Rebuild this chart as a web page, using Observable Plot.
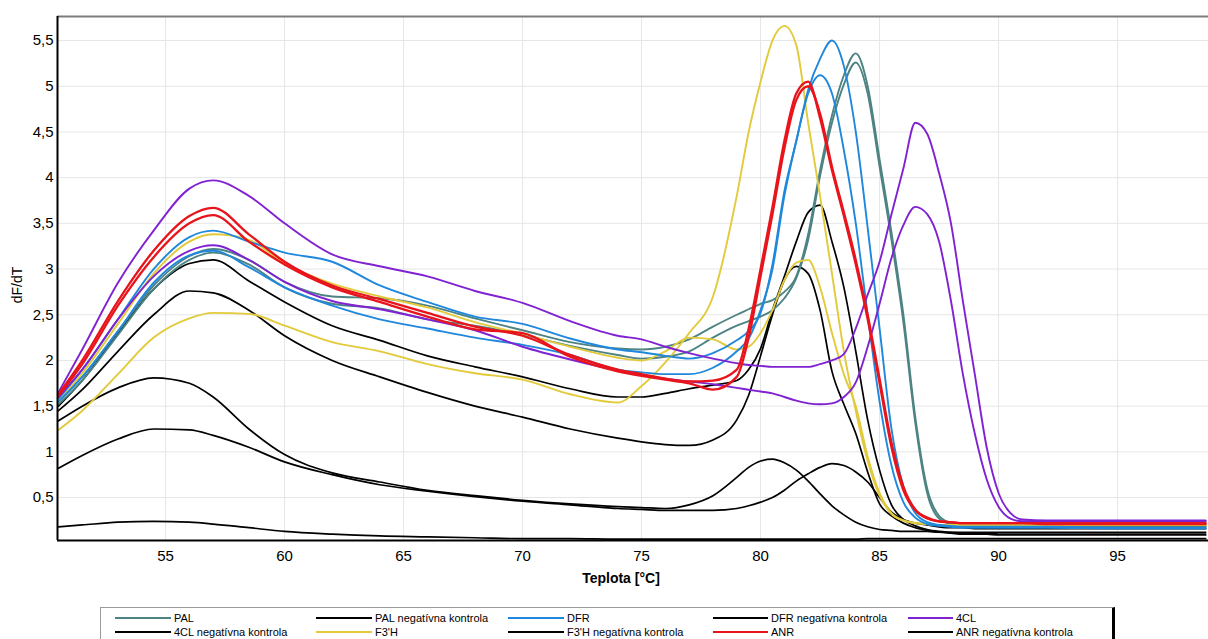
<!DOCTYPE html>
<html><head><meta charset="utf-8">
<script src="https://cdn.jsdelivr.net/npm/d3@7"></script>
<script src="https://cdn.jsdelivr.net/npm/@observablehq/plot@0.6"></script>
<style>
body{margin:0;background:#fff;font-family:"Liberation Sans",Arial,sans-serif;}
#wrap{position:relative;width:1208px;height:639px;overflow:hidden;background:#fff;}
#legend{position:absolute;left:100px;top:607px;width:1015px;height:40px;border:1px solid #9a9a9a;border-right:3px solid #000;box-sizing:border-box;}
.item{position:absolute;font-size:11px;line-height:12px;white-space:nowrap;color:#000;}
.sw{position:absolute;height:2px;}
</style></head><body><div id="wrap"><div id="chart"></div><div id="legend"></div></div>
<script>
// Temperature grid (°C)
const temps = [50.5, 51.5, 53, 54.5, 56, 57, 58.5, 60, 62, 64,
  66, 68, 70, 72, 74, 75, 76, 77, 78, 79,
  79.5, 80, 80.5, 81, 81.5, 82, 82.5, 83, 83.5, 84,
  84.5, 85, 85.5, 86, 86.5, 87, 87.5, 88, 88.5, 89,
  89.5, 90, 90.5, 91, 92, 95, 98.7];

// dF/dT values, two replicates per sample
const PAL_1 = [1.55, 1.82, 2.32, 2.82, 3.14, 3.22, 3.1, 2.86, 2.7, 2.68,
  2.6, 2.46, 2.33, 2.2, 2.13, 2.12, 2.15, 2.23, 2.37, 2.5,
  2.56, 2.62, 2.66, 2.75, 2.92, 3.38, 4.08, 4.68, 5.12, 5.36,
  5.0, 4.2, 3.4, 2.5, 1.38, 0.6, 0.3, 0.22, 0.2, 0.2,
  0.2, 0.2, 0.2, 0.2, 0.2, 0.19, 0.19];
const PAL_2 = [1.52, 1.78, 2.28, 2.78, 3.1, 3.18, 3.05, 2.8, 2.62, 2.57,
  2.45, 2.38, 2.28, 2.16, 2.06, 2.02, 2.04, 2.1, 2.25, 2.38,
  2.43, 2.48, 2.55, 2.68, 2.9, 3.32, 4.02, 4.6, 5.02, 5.26,
  4.92, 4.12, 3.32, 2.42, 1.32, 0.55, 0.27, 0.21, 0.19, 0.19,
  0.19, 0.19, 0.19, 0.19, 0.19, 0.18, 0.18];
const DFR_1 = [1.58, 1.9, 2.45, 3.0, 3.35, 3.42, 3.3, 3.18, 3.08, 2.82,
  2.64, 2.48, 2.4, 2.24, 2.12, 2.09, 2.05, 2.02, 2.08, 2.22,
  2.32, 2.52, 3.05, 3.85, 4.4, 4.96, 5.3, 5.5, 5.22, 4.5,
  3.45, 2.35, 1.25, 0.62, 0.33, 0.23, 0.2, 0.19, 0.18, 0.18,
  0.18, 0.18, 0.18, 0.18, 0.18, 0.17, 0.17];
const DFR_2 = [1.55, 1.82, 2.32, 2.85, 3.15, 3.2, 3.02, 2.8, 2.6, 2.45,
  2.35, 2.25, 2.17, 2.06, 1.9, 1.87, 1.85, 1.85, 1.92, 2.1,
  2.24, 2.55, 3.0, 3.8, 4.4, 4.92, 5.12, 4.92, 4.3, 3.5,
  2.5, 1.55, 0.85, 0.45, 0.28, 0.21, 0.19, 0.18, 0.17, 0.17,
  0.17, 0.17, 0.17, 0.17, 0.17, 0.16, 0.16];
const CL4_1 = [1.65, 2.12, 2.85, 3.42, 3.88, 3.97, 3.8, 3.5, 3.16, 3.03,
  2.92, 2.76, 2.63, 2.43, 2.27, 2.23, 2.15, 2.08, 2.02, 1.97,
  1.95, 1.94, 1.93, 1.93, 1.93, 1.93, 1.96, 2.0, 2.07, 2.35,
  2.72, 3.08, 3.6, 4.1, 4.6, 4.48, 4.05, 3.5, 2.65, 1.85,
  1.05, 0.55, 0.33, 0.26, 0.25, 0.25, 0.25];
const CL4_2 = [1.6, 1.9, 2.45, 2.92, 3.2, 3.26, 3.1, 2.86, 2.65, 2.56,
  2.45, 2.33, 2.15, 2.01, 1.89, 1.84, 1.8, 1.77, 1.74, 1.7,
  1.68, 1.66, 1.64, 1.6, 1.56, 1.53, 1.52, 1.53, 1.6, 1.76,
  2.15, 2.62, 3.12, 3.48, 3.68, 3.6, 3.3, 2.65, 1.85, 1.2,
  0.7, 0.4, 0.27, 0.24, 0.24, 0.24, 0.24];
const F3H_1 = [1.55, 1.86, 2.4, 2.95, 3.3, 3.38, 3.32, 3.06, 2.84, 2.7,
  2.58, 2.42, 2.29, 2.15, 2.03, 2.0, 2.1, 2.25, 2.23, 2.12,
  2.15, 2.3, 2.55, 2.88, 3.07, 3.1, 2.8, 2.3, 1.85, 1.5,
  0.95, 0.55, 0.33, 0.25, 0.22, 0.21, 0.2, 0.2, 0.2, 0.2,
  0.2, 0.2, 0.2, 0.2, 0.2, 0.2, 0.2];
const F3H_2 = [1.24, 1.45, 1.85, 2.25, 2.46, 2.52, 2.51, 2.38, 2.2, 2.1,
  1.96, 1.86, 1.79, 1.63, 1.54, 1.72, 1.98, 2.3, 2.7, 3.8,
  4.5, 5.05, 5.5, 5.66, 5.45, 4.6, 3.8, 2.95, 2.1, 1.45,
  0.9, 0.52, 0.32, 0.25, 0.22, 0.21, 0.2, 0.2, 0.2, 0.2,
  0.2, 0.2, 0.2, 0.2, 0.2, 0.2, 0.2];
const ANR_1 = [1.63, 2.0, 2.65, 3.2, 3.58, 3.67, 3.38, 3.08, 2.82, 2.67,
  2.52, 2.37, 2.27, 2.06, 1.9, 1.85, 1.8, 1.77, 1.78, 1.9,
  2.35, 3.0, 3.68, 4.4, 4.92, 5.05, 4.65, 4.08, 3.58, 3.05,
  2.45, 1.75, 1.05, 0.58, 0.36, 0.27, 0.24, 0.23, 0.22, 0.22,
  0.22, 0.22, 0.22, 0.22, 0.22, 0.22, 0.22];
const ANR_2 = [1.61, 1.96, 2.6, 3.13, 3.5, 3.59, 3.3, 3.05, 2.8, 2.64,
  2.48, 2.34, 2.3, 2.04, 1.88, 1.83, 1.79, 1.75, 1.68, 1.82,
  2.25, 2.92, 3.6, 4.32, 4.85, 5.0, 4.7, 4.12, 3.62, 3.1,
  2.5, 1.8, 1.1, 0.62, 0.37, 0.28, 0.24, 0.23, 0.22, 0.22,
  0.22, 0.22, 0.22, 0.22, 0.21, 0.21, 0.21];
// negative controls
const PAL_neg = [1.5, 1.78, 2.3, 2.78, 3.06, 3.1, 2.87, 2.64, 2.38, 2.22,
  2.05, 1.93, 1.82, 1.69, 1.6, 1.6, 1.64, 1.69, 1.73, 1.78,
  1.9, 2.13, 2.55, 2.92, 3.3, 3.62, 3.7, 3.3, 2.8, 2.1,
  1.35, 0.8, 0.42, 0.26, 0.19, 0.15, 0.13, 0.12, 0.11, 0.11,
  0.11, 0.1, 0.1, 0.1, 0.1, 0.1, 0.1];
const DFR_neg = [1.45, 1.68, 2.1, 2.5, 2.76, 2.74, 2.55, 2.27, 2.0, 1.82,
  1.65, 1.5, 1.38, 1.25, 1.15, 1.11, 1.08, 1.07, 1.13, 1.35,
  1.62, 2.05, 2.5, 2.88, 3.03, 2.95, 2.55, 1.88, 1.52, 1.2,
  0.78, 0.43, 0.3, 0.22, 0.17, 0.14, 0.12, 0.11, 0.1, 0.1,
  0.1, 0.09, 0.09, 0.09, 0.09, 0.09, 0.09];
const F3H_neg = [1.34, 1.5, 1.7, 1.81, 1.75, 1.6, 1.25, 0.97, 0.77, 0.67,
  0.58, 0.52, 0.47, 0.43, 0.4, 0.39, 0.38, 0.42, 0.52, 0.72,
  0.83, 0.9, 0.92, 0.88, 0.8, 0.68, 0.54, 0.41, 0.31, 0.23,
  0.18, 0.15, 0.14, 0.13, 0.13, 0.13, 0.12, 0.12, 0.12, 0.12,
  0.12, 0.12, 0.12, 0.12, 0.12, 0.12, 0.12];
const ANR_neg = [0.82, 0.96, 1.14, 1.25, 1.24, 1.18, 1.05, 0.89, 0.75, 0.64,
  0.57, 0.51, 0.46, 0.42, 0.38, 0.37, 0.36, 0.36, 0.36, 0.38,
  0.41, 0.45, 0.5, 0.58, 0.68, 0.76, 0.83, 0.87, 0.85, 0.78,
  0.67, 0.5, 0.34, 0.26, 0.22, 0.2, 0.18, 0.17, 0.17, 0.16,
  0.16, 0.16, 0.16, 0.16, 0.16, 0.16, 0.16];
const CL4_neg = [0.18, 0.2, 0.23, 0.24, 0.23, 0.21, 0.17, 0.13, 0.1, 0.08,
  0.07, 0.06, 0.05, 0.05, 0.045, 0.045, 0.045, 0.045, 0.045, 0.045,
  0.045, 0.045, 0.045, 0.045, 0.045, 0.045, 0.045, 0.045, 0.045, 0.045,
  0.05, 0.05, 0.05, 0.05, 0.05, 0.05, 0.05, 0.05, 0.05, 0.05,
  0.05, 0.05, 0.05, 0.05, 0.05, 0.05, 0.05];

const xTicks = [55, 60, 65, 70, 75, 80, 85, 90, 95];
const yTicks = [0.5, 1, 1.5, 2, 2.5, 3, 3.5, 4, 4.5, 5, 5.5];

const legendLabels = ["PAL", "PAL negatívna kontrola", "DFR", "DFR negatívna kontrola", "4CL",
  "4CL negatívna kontrola", "F3'H", "F3'H negatívna kontrola", "ANR", "ANR negatívna kontrola"];
const sampleColors = {PAL: "#4d8383", DFR: "#1f88dc", "4CL": "#8022d2", "F3'H": "#e2ca3a", ANR: "#e8141c", neg: "#000000"};
const legendColors = [sampleColors.PAL, sampleColors.neg, sampleColors.DFR, sampleColors.neg, sampleColors["4CL"],
  sampleColors.neg, sampleColors["F3'H"], sampleColors.neg, sampleColors.ANR, sampleColors.neg];

// drawing order: negatives first, then samples
const series = [
  {v: CL4_neg, c: sampleColors.neg, w: 1.7},
  {v: ANR_neg, c: sampleColors.neg, w: 1.7},
  {v: F3H_neg, c: sampleColors.neg, w: 1.7},
  {v: DFR_neg, c: sampleColors.neg, w: 1.7},
  {v: PAL_neg, c: sampleColors.neg, w: 1.7},
  {v: PAL_1, c: sampleColors.PAL, w: 1.9},
  {v: PAL_2, c: sampleColors.PAL, w: 1.9},
  {v: F3H_1, c: sampleColors["F3'H"], w: 1.9},
  {v: F3H_2, c: sampleColors["F3'H"], w: 1.9},
  {v: DFR_1, c: sampleColors.DFR, w: 1.9},
  {v: DFR_2, c: sampleColors.DFR, w: 1.9},
  {v: CL4_1, c: sampleColors["4CL"], w: 1.9},
  {v: CL4_2, c: sampleColors["4CL"], w: 1.9},
  {v: ANR_1, c: sampleColors.ANR, w: 2.3},
  {v: ANR_2, c: sampleColors.ANR, w: 2.3}
];

const xDom = [50.46, 98.82], yDom = [0.03, 5.763];
const fmt = d => String(d).replace(".", ",");

const chart = Plot.plot({
  width: 1208, height: 600,
  marginTop: 16, marginBottom: 60, marginLeft: 57, marginRight: 0,
  style: {fontFamily: "'Liberation Sans', Arial, sans-serif", fontSize: "15px", background: "#fff", color: "#000"},
  x: {domain: xDom},
  y: {domain: yDom},
  marks: [
    Plot.gridX(xTicks, {stroke: "#e6e6e6", strokeOpacity: 1}),
    Plot.gridY(yTicks, {stroke: "#e6e6e6", strokeOpacity: 1}),
    ...series.map(s => Plot.lineY(temps.map((t, i) => ({t, v: s.v[i]})),
      {x: "t", y: "v", stroke: s.c, strokeWidth: s.w, curve: "monotone-x", clip: true})),
    Plot.ruleY([yDom[1]], {stroke: "#7c7c7c", strokeWidth: 2}),
    Plot.ruleX([xDom[0]], {stroke: "#000", strokeWidth: 2}),
    Plot.ruleY([yDom[0]], {stroke: "#000", strokeWidth: 2}),
    Plot.axisX(xTicks, {tickSize: 0, tickPadding: 10, label: null, fontSize: 15}),
    Plot.axisY(yTicks, {tickSize: 0, tickPadding: 4, label: null, tickFormat: fmt, fontSize: 15})
  ]
});
document.getElementById("chart").appendChild(chart);

const svg = d3.select(chart);
svg.append("text").attr("transform", "translate(22,285) rotate(-90)")
  .attr("text-anchor", "middle").attr("font-size", 14).attr("fill", "#000")
  .text("dF/dT");
svg.append("text").attr("x", 621).attr("y", 583)
  .attr("text-anchor", "middle").attr("font-size", 14).attr("font-weight", "bold").attr("fill", "#000")
  .text("Teplota [°C]");

// legend
const colX = [14, 215, 407, 612, 807];
const colW = [56, 56, 56, 55, 45];
const rowY = [9, 23];
const leg = d3.select("#legend");
legendLabels.forEach((lab, i) => {
  const r = Math.floor(i / 5), c = i % 5;
  leg.append("div").attr("class", "sw")
    .style("left", colX[c] + "px").style("top", rowY[r] + "px")
    .style("width", colW[c] + "px").style("background", legendColors[i]);
  leg.append("div").attr("class", "item")
    .style("left", (colX[c] + colW[c] + 3) + "px").style("top", (rowY[r] - 5) + "px")
    .text(lab);
});
</script></body></html>
